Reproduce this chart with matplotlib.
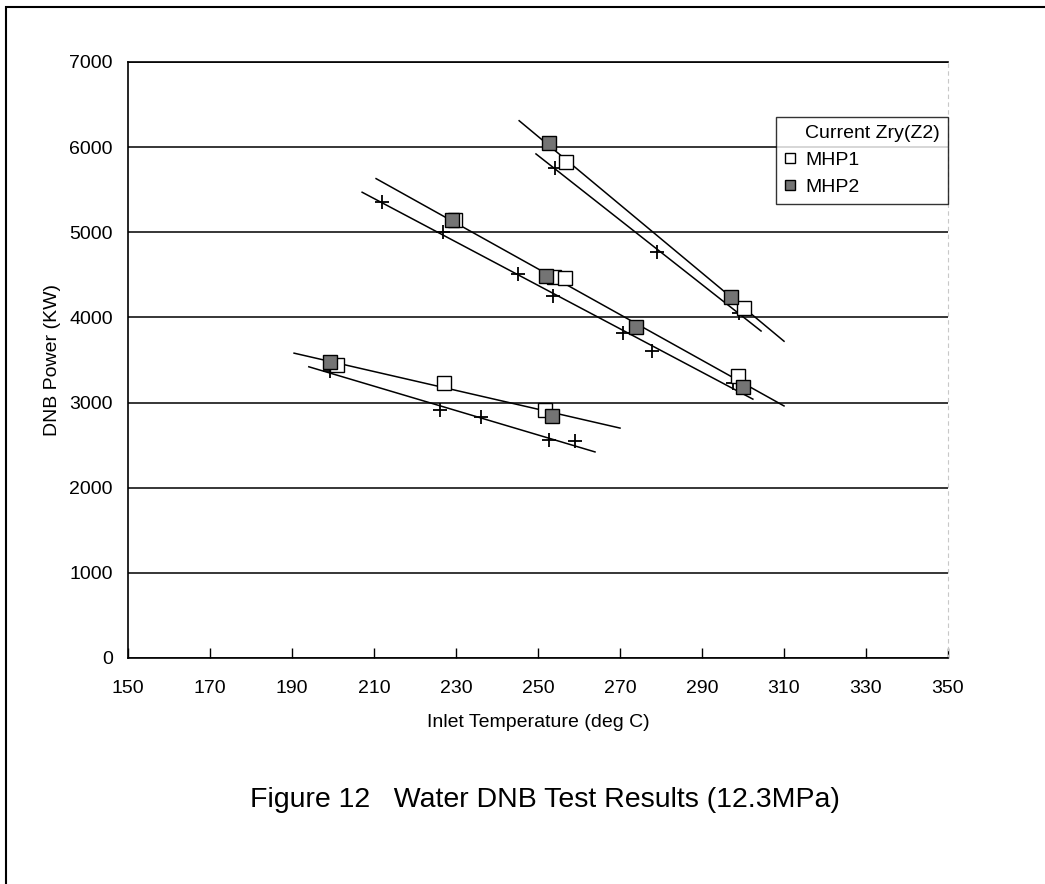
import numpy as np
import matplotlib.pyplot as plt
from matplotlib.lines import Line2D
from matplotlib.patches import Rectangle

plt.rcParams['font.family'] = ['Liberation Sans', 'DejaVu Sans']

# MHP1 (open squares)
mhp1_x = [201.0, 227.0, 251.7, 229.8, 254.0, 256.6, 298.8, 256.8, 300.2]
mhp1_y = [3445, 3230, 2910, 5140, 4470, 4460, 3310, 5830, 4110]

# MHP2 (shaded squares)
mhp2_x = [199.3, 253.4, 229.0, 252.0, 273.9, 300.0, 252.7, 297.1]
mhp2_y = [3480, 2840, 5140, 4490, 3890, 3180, 6050, 4240]

# Current Zry(Z2) (plus marks)
zry_x = [199.3, 226.1, 236.1, 252.7, 259.0,
         212.0, 226.8, 245.1, 253.7, 270.7, 277.8, 297.6,
         254.1, 279.0, 299.0]
zry_y = [3370, 2910, 2830, 2560, 2550,
         5360, 5000, 4510, 4250, 3820, 3600, 3230,
         5760, 4770, 4050]

# fitted lines (start/end)
fit_x = [[190.5, 270.0], [194.1, 263.9],
         [210.5, 310.0], [207.1, 302.4],
         [245.4, 310.0], [249.5, 304.4]]
fit_y = [[3580, 2700], [3420, 2420],
         [5630, 2960], [5470, 3040],
         [6310, 3720], [5920, 3840]]

fig = plt.figure(figsize=(10.45, 8.84), dpi=100)
ax = fig.add_axes([0.1225, 0.2557, 0.7847, 0.6742])

# page frame
fig.patches.append(Rectangle((6 / 1045, -0.05), 1.2, 1 - 7 / 884 + 0.05,
                             transform=fig.transFigure, fill=False,
                             edgecolor='black', linewidth=1.5))

for fx, fy in zip(fit_x, fit_y):
    ax.plot(fx, fy, color='black', linewidth=1.1, zorder=3)

ax.plot(zry_x, zry_y, linestyle='none', marker='+', markersize=10,
        markeredgewidth=1.3, color='black', zorder=4)
ax.plot(mhp1_x, mhp1_y, linestyle='none', marker='s', markersize=10,
        markerfacecolor='white', markeredgecolor='black',
        markeredgewidth=1.0, zorder=5)
ax.plot(mhp2_x, mhp2_y, linestyle='none', marker='s', markersize=10,
        markerfacecolor='#747474', markeredgecolor='black',
        markeredgewidth=1.0, zorder=6)

ax.set_xlim(150, 350)
ax.set_ylim(0, 7000)
ax.set_xticks(np.arange(150, 351, 20))
ax.set_yticks(np.arange(0, 7001, 1000))
ax.tick_params(axis='x', direction='in', length=7, width=1, labelsize=14, pad=16)
ax.tick_params(axis='y', length=0, labelsize=14, pad=11)
ax.yaxis.grid(True, color='black', linewidth=1.1)
ax.set_axisbelow(True)
for s in ['left', 'top', 'bottom']:
    ax.spines[s].set_linewidth(1.2)
ax.spines['right'].set_color('#c8c8c8')
ax.spines['right'].set_linestyle((0, (3, 4)))

ax.set_xlabel('Inlet Temperature (deg C)', fontsize=14, labelpad=12)
ax.set_ylabel('DNB Power (KW)', fontsize=14, labelpad=6)

handles = [Line2D([], [], linestyle='none', marker=None),
           Line2D([], [], linestyle='none', marker='s', markersize=7,
                  markerfacecolor='white', markeredgecolor='black'),
           Line2D([], [], linestyle='none', marker='s', markersize=7,
                  markerfacecolor='#747474', markeredgecolor='black')]
leg = ax.legend(handles, ['Current Zry(Z2)', 'MHP1', 'MHP2'],
                loc='upper right', bbox_to_anchor=(1.0, 0.908),
                fontsize=14, frameon=True, fancybox=False,
                handlelength=0.6, handletextpad=0.5, borderpad=0.4,
                labelspacing=0.48, borderaxespad=0)
leg.get_frame().set_edgecolor('black')
leg.get_frame().set_linewidth(1.0)

fig.text(0.5215, 0.095, 'Figure 12   Water DNB Test Results (12.3MPa)',
         fontsize=20.5, ha='center', va='center')

fig.savefig('out.png', dpi=100)
